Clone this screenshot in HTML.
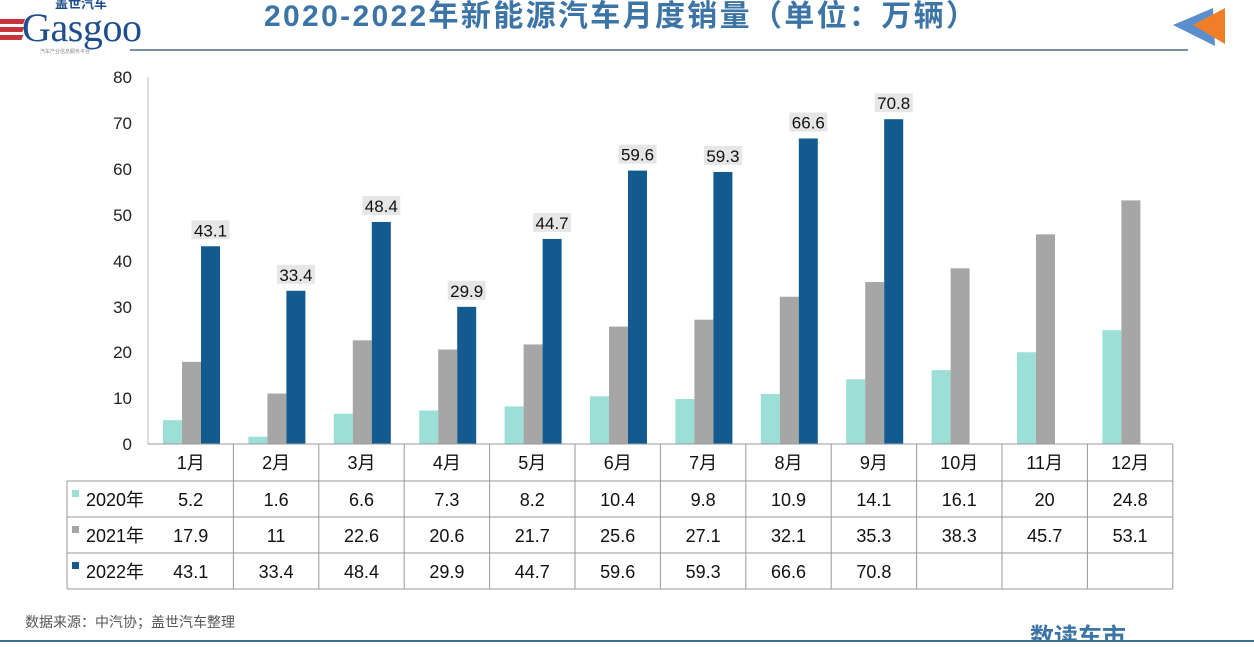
<!DOCTYPE html>
<html><head><meta charset="utf-8"><style>
body{margin:0;width:1254px;height:642px;overflow:hidden;background:#fff;font-family:"Liberation Sans","Noto Sans CJK SC",sans-serif;}
</style></head><body>
<svg width="1254" height="642" xmlns="http://www.w3.org/2000/svg" font-family="Liberation Sans, Noto Sans CJK SC, sans-serif">
<g>
<rect x="6" y="19" width="26" height="5" fill="#c8323a" transform="skewX(-20)"/>
<rect x="8" y="27" width="26" height="5" fill="#c8323a" transform="skewX(-20)"/>
<rect x="10" y="35" width="26" height="5" fill="#c8323a" transform="skewX(-20)"/>
<text x="22" y="41" font-family="Liberation Serif, serif" font-size="40" fill="#1e4e8c" textLength="120">Gasgoo</text>
<text x="55" y="8" font-size="13" font-weight="bold" fill="#1e4e8c" font-family="Noto Sans CJK SC, sans-serif">盖世汽车</text>
<text x="40" y="53" font-size="5" fill="#888" font-family="Noto Sans CJK SC, sans-serif">汽车产业信息服务平台</text>
</g>
<text x="620" y="26" text-anchor="middle" font-size="30" font-weight="bold" fill="#3d74a6" textLength="712" font-family="Liberation Sans, Noto Sans CJK SC, sans-serif">2020-2022年新能源汽车月度销量（单位：万辆）</text>
<line x1="130" y1="50" x2="1188" y2="50" stroke="#4a6a8a" stroke-width="1.5"/>
<polygon points="1173,25 1213,8 1215,46" fill="#5b8fcc"/>
<polygon points="1193,25 1225,8 1225,44" fill="#f07d28"/>
<g font-size="17" fill="#222" text-anchor="end">
<text x="132" y="83">80</text><text x="132" y="129">70</text><text x="132" y="175">60</text><text x="132" y="221">50</text><text x="132" y="267">40</text><text x="132" y="313">30</text><text x="132" y="358">20</text><text x="132" y="404">10</text><text x="132" y="450">0</text>
</g>
<line x1="148" y1="77" x2="148" y2="444" stroke="#bbb"/>
<g id="bars"></g>
<g stroke="#999" stroke-width="1" fill="none">
<line x1="148" y1="444" x2="1173" y2="444"/>
<line x1="67" y1="481" x2="1173" y2="481"/>
<line x1="67" y1="517" x2="1173" y2="517"/>
<line x1="67" y1="553" x2="1173" y2="553"/>
<line x1="67" y1="589" x2="1173" y2="589"/>
<line x1="67" y1="481" x2="67" y2="589"/>
</g>
<g id="tbl"></g>
<text x="25" y="627" font-size="14" fill="#555" font-family="Noto Sans CJK SC, sans-serif">数据来源：中汽协；盖世汽车整理</text>
<text x="1030" y="645" font-size="24" font-weight="bold" fill="#3d74a6" font-family="Noto Sans CJK SC, sans-serif">数读车市</text>
<line x1="0" y1="641" x2="1254" y2="641" stroke="#3a6f8a" stroke-width="2"/>
</svg>
<script>
var d=[[5.2,1.6,6.6,7.3,8.2,10.4,9.8,10.9,14.1,16.1,20,24.8],[17.9,11,22.6,20.6,21.7,25.6,27.1,32.1,35.3,38.3,45.7,53.1],[43.1,33.4,48.4,29.9,44.7,59.6,59.3,66.6,70.8,null,null,null]];
var c=["#9cdfd6","#a6a6a6","#135a8f"],yr=["2020年","2021年","2022年"];
var ns="http://www.w3.org/2000/svg",B=document.getElementById("bars"),T=document.getElementById("tbl");
function el(p,t,a,tx){var e=document.createElementNS(ns,t);for(var k in a)e.setAttribute(k,a[k]);if(tx!=null)e.textContent=tx;p.appendChild(e);return e;}
var w=85.4,s=4.5875;
for(var m=0;m<12;m++){var x0=148+m*w;
 for(var r=0;r<3;r++){var v=d[r][m];if(v==null)continue;var h=v*s;
  el(B,"rect",{x:x0+15+r*19,y:444-h,width:19,height:h,fill:c[r]});
  if(r==2){var cx=x0+15+2*19+9.5;el(B,"rect",{x:cx-19,y:444-h-26,width:38,height:19,fill:"#e6e6e6"});
   el(B,"text",{x:cx,y:444-h-10,"text-anchor":"middle","font-size":"17",fill:"#111"},v);}
 }
 el(T,"line",{x1:x0+w,y1:444,x2:x0+w,y2:589,stroke:"#999"});
 el(T,"text",{x:x0+w/2,y:469,"text-anchor":"middle","font-size":"18",fill:"#111"},(m+1)+"月");
 for(var r=0;r<3;r++){if(d[r][m]!=null)el(T,"text",{x:x0+w/2,y:506+r*36,"text-anchor":"middle","font-size":"18",fill:"#111"},d[r][m]);}
}
for(var r=0;r<3;r++){el(T,"rect",{x:72,y:490+r*36,width:7,height:7,fill:c[r]});
 el(T,"text",{x:86,y:506+r*36,"font-size":"18",fill:"#111"},yr[r]);}
</script>
</body></html>
